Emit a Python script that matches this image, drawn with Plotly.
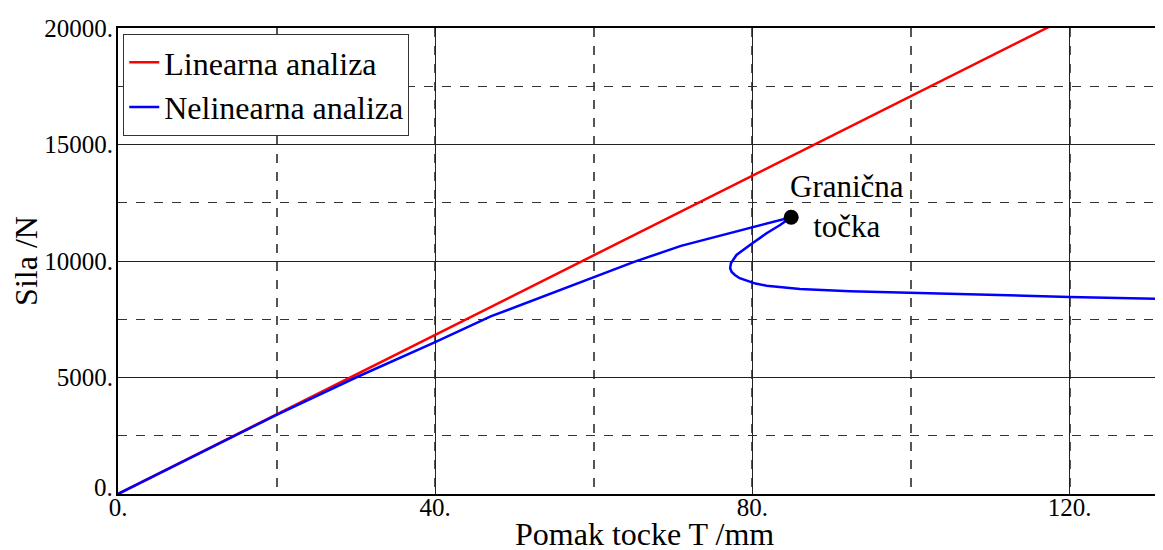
import plotly.graph_objects as go

# linear analysis (straight line, clipped at the top of the axes)
lin_x = [0, 133]
lin_f = [0, 22710]

# nonlinear analysis
nonlin_x = [0, 10, 20, 30, 40, 47, 55, 60, 65, 71, 84.9,
            83.5, 81.8, 79.7, 78.0, 77.3, 77.2, 77.4, 77.8, 78.4, 79.3, 80.4, 81.8,
            83.8, 86.0, 92.3, 98.6, 108.7, 120, 133]
nonlin_f = [0, 1710, 3400, 5000, 6520, 7620, 8650, 9300, 9950, 10650, 11880,
            11545, 11190, 10687, 10258, 9900, 9686, 9530, 9400, 9260, 9142, 9030, 8940,
            8860, 8798, 8700, 8640, 8545, 8460, 8365]

# limit point
limit_x = [84.9]
limit_f = [11880]
limit_label = "Granična<br>točka"

x_ticks = [0, 40, 80, 120]
x_ticktext = ["0.", "40.", "80.", "120."]
y_ticks = [0, 5000, 10000, 15000, 20000]
y_ticktext = ["", "5000.", "10000.", "15000.", "20000."]
y_zero_label = "0."
x_title = "Pomak tocke T /mm"
y_title = "Sila /N"

FONT = "Liberation Serif"

fig = go.Figure()
fig.add_trace(go.Scatter(x=lin_x, y=lin_f, mode="lines", name="Linearna analiza",
                         line=dict(color="#ff0000", width=2.5)))
fig.add_trace(go.Scatter(x=nonlin_x, y=nonlin_f, mode="lines", name="Nelinearna analiza",
                         line=dict(color="#0000ff", width=2.5)))
fig.add_trace(go.Scatter(x=limit_x, y=limit_f, mode="markers", showlegend=False,
                         marker=dict(color="black", size=15)))

fig.add_annotation(x=92, y=12320, xref="x", yref="y", text=limit_label,
                   showarrow=False, align="center",
                   font=dict(family=FONT, size=31, color="black"))

# y "0." label sits a bit higher than the other ticks, as in the source
fig.add_annotation(x=0, y=0, xref="paper", yref="y", text=y_zero_label,
                   showarrow=False, xanchor="right", yanchor="middle",
                   xshift=-3, yshift=7,
                   font=dict(family=FONT, size=25, color="black"))

# x title as a paper annotation so it is not pushed off the bottom
fig.add_annotation(x=0.5, y=-0.086, xref="paper", yref="paper", text=x_title,
                   showarrow=False, xanchor="center", yanchor="middle",
                   font=dict(family=FONT, size=32, color="black"))

axis_common = dict(
    showline=True, linecolor="black", linewidth=2, mirror=True,
    showgrid=True, gridcolor="#222", gridwidth=1,
    zeroline=False, ticks="", automargin=False,
    tickfont=dict(family=FONT, size=25, color="black"),
)

# the page body adds an 8px offset, so margins are 8px smaller than the target
fig.update_xaxes(
    range=[0, 132.8], tickvals=x_ticks, ticktext=x_ticktext,
    ticklabelstandoff=-10,
    minor=dict(dtick=20, tick0=0, showgrid=True, griddash="dash",
               gridcolor="#555", gridwidth=1.5),
    **axis_common,
)
fig.update_yaxes(
    range=[0, 20000], tickvals=y_ticks, ticktext=y_ticktext,
    ticklabelstandoff=-2,
    minor=dict(dtick=2500, tick0=0, showgrid=True, griddash="dash",
               gridcolor="#333", gridwidth=1),
    title=dict(text=y_title, font=dict(family=FONT, size=32, color="black"),
               standoff=4),
    **axis_common,
)

fig.update_layout(
    width=1163, height=550,
    margin=dict(l=110, r=0, t=20, b=64),
    plot_bgcolor="white", paper_bgcolor="white",
    font=dict(family=FONT, color="black"),
    legend=dict(x=0.005, y=0.987, xanchor="left", yanchor="top",
                bgcolor="white", bordercolor="#333", borderwidth=1,
                font=dict(family=FONT, size=32, color="black"),
                tracegroupgap=0),
)

fig.write_html("out.html")
